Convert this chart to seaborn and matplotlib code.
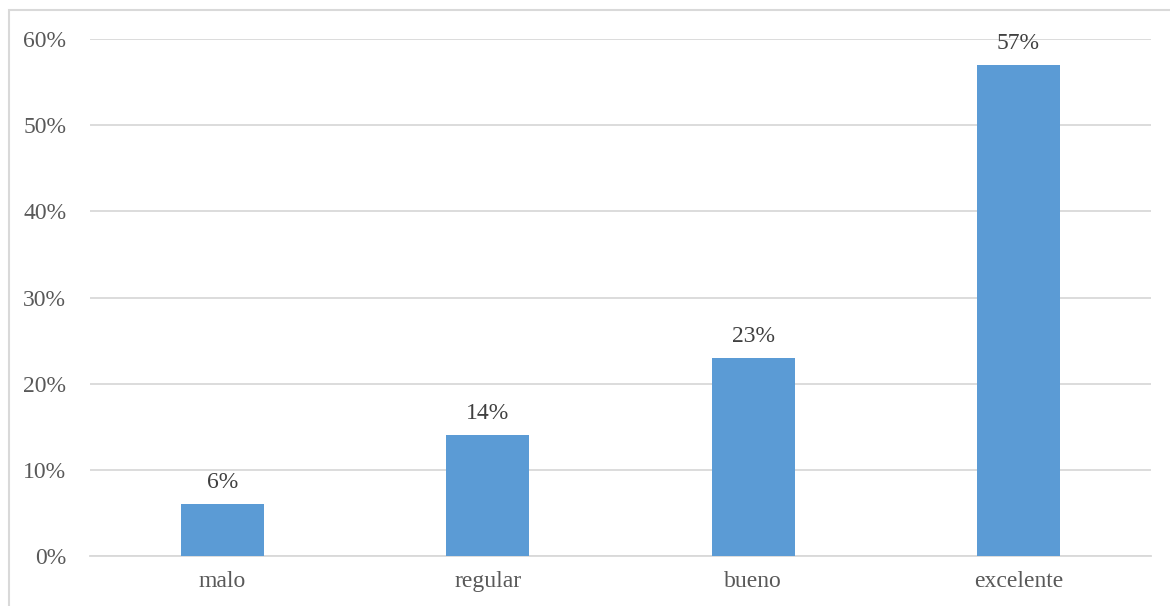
import matplotlib
matplotlib.use("Agg")
import matplotlib.pyplot as plt
import seaborn as sns
import pandas as pd
from matplotlib.patches import Rectangle
from matplotlib.ticker import PercentFormatter

categories = ["malo", "regular", "bueno", "excelente"]
values = [0.06, 0.14, 0.23, 0.57]
labels = ["6%", "14%", "23%", "57%"]

sns.set_theme(style="white")
plt.rcParams["font.family"] = ["Liberation Serif", "DejaVu Serif"]

df = pd.DataFrame({"categoria": categories, "valor": values})

fig = plt.figure(figsize=(11.7, 6.06), dpi=100)
ax = fig.add_axes([0.0769, 0.0825, 0.9069, 0.8531])

sns.barplot(data=df, x="categoria", y="valor", color="#5B9BD5", width=0.313,
            saturation=1, linewidth=0, ax=ax, zorder=3)

ax.set_ylim(0, 0.6)
ax.set_yticks([0, 0.1, 0.2, 0.3, 0.4, 0.5, 0.6])
ax.yaxis.set_major_formatter(PercentFormatter(1.0, decimals=0))
ax.grid(axis="y", color="#d9d9d9", linewidth=1.3, zorder=0)
ax.set_axisbelow(True)
for s in ["top", "right", "left"]:
    ax.spines[s].set_visible(False)
ax.spines["bottom"].set_color("#d9d9d9")
ax.spines["bottom"].set_linewidth(1.3)
ax.set_xlabel("")
ax.set_ylabel("")
ax.tick_params(axis="both", length=0, labelsize=17, colors="#595959")
ax.tick_params(axis="y", pad=17)
ax.tick_params(axis="x", pad=11)

for i, (v, t) in enumerate(zip(values, labels)):
    ax.annotate(t, (i, v), xytext=(0, 8), textcoords="offset points",
                ha="center", va="bottom", fontsize=17, color="#404040")

fig.patches.append(Rectangle((9 / 1170, -0.1), 1.2, 1 - 9.5 / 606 + 0.1,
                             transform=fig.transFigure, fill=False,
                             edgecolor="#d9d9d9", linewidth=1.5))

fig.savefig("out.png", dpi=100)
